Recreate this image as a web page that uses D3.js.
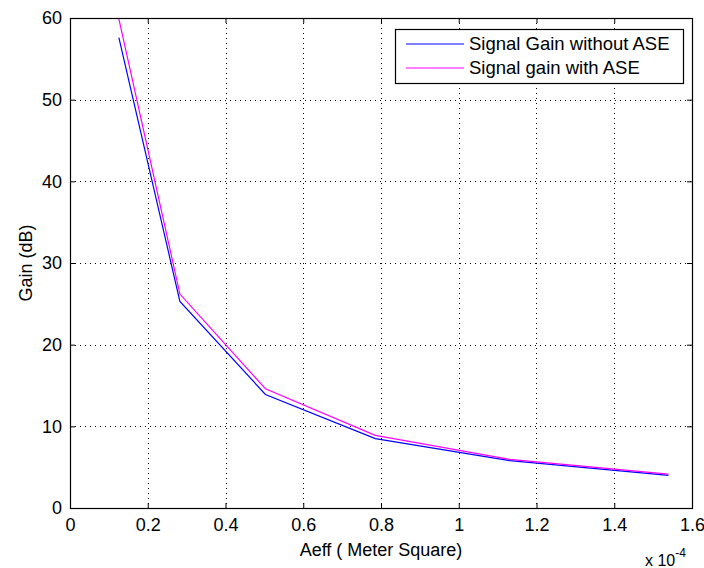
<!DOCTYPE html>
<html>
<head>
<meta charset="utf-8">
<script src="https://cdn.jsdelivr.net/npm/d3@7/dist/d3.min.js"></script>
<style>
  body { margin: 0; background: #fff; }
  svg { font-family: "Liberation Sans", Arial, sans-serif; }
  .grid line { stroke: #000; stroke-dasharray: 1,4; stroke-width: 1; }
</style>
</head>
<body>
<div class="core_div"></div>
<script>
// Data (x in units of 1e-4 m^2)
var aeff = [0.1257, 0.2827, 0.5027, 0.7854, 1.1310, 1.5394];
var gainNoAse = [57.6, 25.3, 13.9, 8.5, 5.8, 4.0];
var gainAse = [59.9, 26.2, 14.6, 8.9, 5.95, 4.15];
var xTicks = [0, 0.2, 0.4, 0.6, 0.8, 1, 1.2, 1.4, 1.6];
var yTicks = [0, 10, 20, 30, 40, 50, 60];
var seriesNames = ["Signal Gain without ASE", "Signal gain with ASE"];
var seriesColors = ["#0000ff", "#ff00ff"];

var W = 704, H = 568;
var margin = {top: 18, right: 12, bottom: 60, left: 70},
    width = W - margin.left - margin.right,
    height = H - margin.top - margin.bottom;

var svg = d3.select(".core_div").append("svg")
    .attr("width", W)
    .attr("height", H);

var g = svg.append("g")
    .attr("transform", "translate(" + margin.left + "," + margin.top + ")");

var x = d3.scaleLinear().domain([0, 1.6]).range([0, width]);
var y = d3.scaleLinear().domain([0, 60]).range([height, 0]);

// grid
var grid = g.append("g").attr("class", "grid");
grid.selectAll("line.v")
    .data(xTicks.slice(1, -1))
  .enter().append("line")
    .attr("x1", function(d) { return Math.round(x(d)) + 0.5; })
    .attr("x2", function(d) { return Math.round(x(d)) + 0.5; })
    .attr("y1", 0).attr("y2", height);
grid.selectAll("line.h")
    .data(yTicks.slice(1, -1))
  .enter().append("line")
    .attr("y1", function(d) { return Math.round(y(d)) + 0.5; })
    .attr("y2", function(d) { return Math.round(y(d)) + 0.5; })
    .attr("x1", 0).attr("x2", width);

// lines
var line = d3.line()
    .x(function(d) { return x(d[0]); })
    .y(function(d) { return y(d[1]); });

[gainNoAse, gainAse].forEach(function(vals, i) {
  g.append("path")
      .datum(aeff.map(function(a, k) { return [a, vals[k]]; }))
      .attr("fill", "none")
      .attr("stroke", seriesColors[i])
      .attr("stroke-width", 1.2)
      .attr("d", line);
});

// axes (ticks inside, box on)
function styleAxis(sel) {
  sel.select(".domain").remove();
  sel.selectAll(".tick line").attr("stroke", "#000");
  sel.selectAll(".tick text").attr("fill", "#000").style("font-size", "18px");
}
var fmt = function(d) { return String(d); };

g.append("g")
    .attr("transform", "translate(0," + height + ")")
    .call(d3.axisBottom(x).tickValues(xTicks).tickFormat(fmt).tickSizeInner(-5).tickSizeOuter(0).tickPadding(10))
    .call(styleAxis);
g.append("g")
    .call(d3.axisTop(x).tickValues(xTicks).tickFormat("").tickSizeInner(-5).tickSizeOuter(0))
    .call(styleAxis);
g.append("g")
    .call(d3.axisLeft(y).tickValues(yTicks).tickFormat(fmt).tickSizeInner(-5).tickSizeOuter(0).tickPadding(8))
    .call(styleAxis);
g.append("g")
    .attr("transform", "translate(" + width + ",0)")
    .call(d3.axisRight(y).tickValues(yTicks).tickFormat("").tickSizeInner(-5).tickSizeOuter(0))
    .call(styleAxis);

g.append("rect")
    .attr("x", 0.5).attr("y", 0.5)
    .attr("width", width).attr("height", height)
    .attr("fill", "none").attr("stroke", "#000").attr("stroke-width", 1.2);

// axis labels
svg.append("text")
    .attr("x", margin.left + width / 2)
    .attr("y", 556)
    .attr("text-anchor", "middle")
    .style("font-size", "18px")
    .text("Aeff ( Meter Square)");

svg.append("text")
    .attr("transform", "translate(32," + (margin.top + height / 2) + ") rotate(-90)")
    .attr("text-anchor", "middle")
    .style("font-size", "18px")
    .text("Gain (dB)");

var expo = svg.append("text")
    .attr("x", 645)
    .attr("y", 566)
    .style("font-size", "16px");
expo.append("tspan").text("x 10");
expo.append("tspan").attr("dy", -9).style("font-size", "12px").text("-4");

// legend
var lg = svg.append("g").attr("transform", "translate(395,29)");
lg.append("rect")
    .attr("x", 0.5).attr("y", 0.5)
    .attr("width", 288).attr("height", 54)
    .attr("fill", "#fff").attr("stroke", "#000").attr("stroke-width", 1.2);
seriesNames.forEach(function(name, i) {
  var ly = 15 + i * 24;
  lg.append("line")
      .attr("x1", 11).attr("x2", 69)
      .attr("y1", ly).attr("y2", ly)
      .attr("stroke", seriesColors[i]).attr("stroke-width", 1.2);
  lg.append("text")
      .attr("x", 74).attr("y", ly + 6)
      .style("font-size", "18.5px")
      .text(name);
});
</script>
</body>
</html>
